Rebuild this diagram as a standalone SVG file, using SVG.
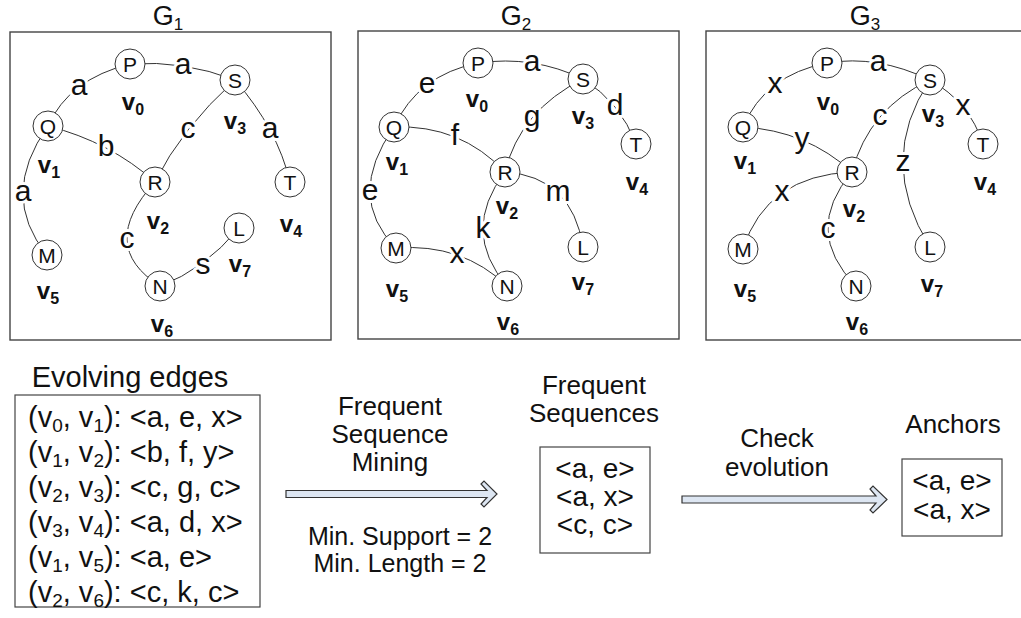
<svg xmlns="http://www.w3.org/2000/svg" width="1021" height="618" viewBox="0 0 1021 618">
  <style>
    text { font-family: "Liberation Sans", Arial, Helvetica, sans-serif; fill: #111; }
    .frame { fill: none; stroke: #444; stroke-width: 1.4; }
    .box { fill: #fff; stroke: #444; stroke-width: 1.2; }
    .edge { fill: none; stroke: #333; stroke-width: 1; }
    .node circle { fill: #fff; stroke: #333; stroke-width: 1; }
    .nl { font-size: 21px; text-anchor: middle; }
    .vl { font-size: 24px; font-weight: bold; text-anchor: middle; }
    .vl .s { font-size: 16px; }
    .el { font-size: 30px; text-anchor: middle; stroke: #fff; stroke-width: 6; paint-order: stroke; stroke-linejoin: round; }
    .title { font-size: 27px; text-anchor: middle; }
    .title .s { font-size: 17px; }
    .big { font-size: 29px; text-anchor: middle; }
    .row { font-size: 29px; }
    .row .s { font-size: 19px; }
    .lbl { font-size: 26px; text-anchor: middle; }
    .lbl.sm { font-size: 25px; }
    .seq { font-size: 28px; text-anchor: middle; }
    .arrow { fill: #dde6f2; stroke: #333; stroke-width: 1.2; stroke-linejoin: miter; }
  </style>

  <!-- panel frames and titles -->
  <g id="panels">
    <rect class="frame" x="10" y="32" width="321" height="308"/>
    <rect class="frame" x="358" y="31" width="321" height="308"/>
    <rect class="frame" x="706" y="31" width="330" height="309"/>
    <text class="title" x="168" y="25">G<tspan class="s" dy="5">1</tspan></text>
    <text class="title" x="516" y="25">G<tspan class="s" dy="5">2</tspan></text>
    <text class="title" x="865" y="25">G<tspan class="s" dy="5">3</tspan></text>
  </g>

  <!-- ===== G1 ===== -->
  <g id="g1-connectors">
    <path class="edge" d="M48,126 Q69,79 130,64"/>
    <path class="edge" d="M130,64 Q183.5,60 235,80"/>
    <path class="edge" d="M235,80 Q277.5,129 290,182"/>
    <path class="edge" d="M235,80 Q181,129 155,182"/>
    <path class="edge" d="M48,126 Q110.5,142 155,182"/>
    <path class="edge" d="M48,126 Q-1.5,195.5 47,255"/>
    <path class="edge" d="M155,182 Q96.5,246 160,286"/>
    <path class="edge" d="M160,286 Q204,270 239,228"/>
    <text class="el" x="79" y="95">a</text>
    <text class="el" x="183" y="74">a</text>
    <text class="el" x="270" y="138">a</text>
    <text class="el" x="188" y="138">c</text>
    <text class="el" x="106" y="156">b</text>
    <text class="el" x="23" y="201">a</text>
    <text class="el" x="127" y="248">c</text>
    <text class="el" x="203" y="274">s</text>
  </g>
  <g id="g1-v0" class="node"><circle cx="130" cy="64" r="15"/><text class="nl" x="130" y="71.5">P</text><text class="vl" x="133" y="110">v<tspan class="s" dy="5">0</tspan></text></g>
  <g id="g1-v1" class="node"><circle cx="48" cy="126" r="15"/><text class="nl" x="48" y="133.5">Q</text><text class="vl" x="49" y="173">v<tspan class="s" dy="5">1</tspan></text></g>
  <g id="g1-v2" class="node"><circle cx="155" cy="182" r="15"/><text class="nl" x="155" y="189.5">R</text><text class="vl" x="158" y="229">v<tspan class="s" dy="5">2</tspan></text></g>
  <g id="g1-v3" class="node"><circle cx="235" cy="80" r="15"/><text class="nl" x="235" y="87.5">S</text><text class="vl" x="235" y="129">v<tspan class="s" dy="5">3</tspan></text></g>
  <g id="g1-v4" class="node"><circle cx="290" cy="182" r="15"/><text class="nl" x="290" y="189.5">T</text><text class="vl" x="291" y="232">v<tspan class="s" dy="5">4</tspan></text></g>
  <g id="g1-v5" class="node"><circle cx="47" cy="255" r="15"/><text class="nl" x="47" y="262.5">M</text><text class="vl" x="48" y="299">v<tspan class="s" dy="5">5</tspan></text></g>
  <g id="g1-v6" class="node"><circle cx="160" cy="286" r="15"/><text class="nl" x="160" y="293.5">N</text><text class="vl" x="162" y="332">v<tspan class="s" dy="5">6</tspan></text></g>
  <g id="g1-v7" class="node"><circle cx="239" cy="228" r="15"/><text class="nl" x="239" y="235.5">L</text><text class="vl" x="240" y="272">v<tspan class="s" dy="5">7</tspan></text></g>

  <!-- ===== G2 ===== -->
  <g id="g2-connectors">
    <path class="edge" d="M394,127 Q418,75 478,63"/>
    <path class="edge" d="M478,63 Q533.5,55 583,79"/>
    <path class="edge" d="M583,79 Q620.5,102.5 636,144"/>
    <path class="edge" d="M583,79 Q520,110.5 505,172"/>
    <path class="edge" d="M394,127 Q460.5,124.5 505,172"/>
    <path class="edge" d="M505,172 Q572,176.5 583,247"/>
    <path class="edge" d="M394,127 Q345,196.5 396,248"/>
    <path class="edge" d="M505,172 Q460,231 507,286"/>
    <path class="edge" d="M396,248 Q462.5,243 507,286"/>
    <text class="el" x="427" y="93">e</text>
    <text class="el" x="532" y="71">a</text>
    <text class="el" x="615" y="115">d</text>
    <text class="el" x="532" y="126">g</text>
    <text class="el" x="455" y="145">f</text>
    <text class="el" x="558" y="201">m</text>
    <text class="el" x="370" y="200">e</text>
    <text class="el" x="483" y="238">k</text>
    <text class="el" x="457" y="263">x</text>
  </g>
  <g id="g2-v0" class="node"><circle cx="478" cy="63" r="15"/><text class="nl" x="478" y="70.5">P</text><text class="vl" x="477" y="107">v<tspan class="s" dy="5">0</tspan></text></g>
  <g id="g2-v1" class="node"><circle cx="394" cy="127" r="15"/><text class="nl" x="394" y="134.5">Q</text><text class="vl" x="397" y="170">v<tspan class="s" dy="5">1</tspan></text></g>
  <g id="g2-v2" class="node"><circle cx="505" cy="172" r="15"/><text class="nl" x="505" y="179.5">R</text><text class="vl" x="507" y="214">v<tspan class="s" dy="5">2</tspan></text></g>
  <g id="g2-v3" class="node"><circle cx="583" cy="79" r="15"/><text class="nl" x="583" y="86.5">S</text><text class="vl" x="583" y="124">v<tspan class="s" dy="5">3</tspan></text></g>
  <g id="g2-v4" class="node"><circle cx="636" cy="144" r="15"/><text class="nl" x="636" y="151.5">T</text><text class="vl" x="637" y="190">v<tspan class="s" dy="5">4</tspan></text></g>
  <g id="g2-v5" class="node"><circle cx="396" cy="248" r="15"/><text class="nl" x="396" y="255.5">M</text><text class="vl" x="397" y="297">v<tspan class="s" dy="5">5</tspan></text></g>
  <g id="g2-v6" class="node"><circle cx="507" cy="286" r="15"/><text class="nl" x="507" y="293.5">N</text><text class="vl" x="508" y="330">v<tspan class="s" dy="5">6</tspan></text></g>
  <g id="g2-v7" class="node"><circle cx="583" cy="247" r="15"/><text class="nl" x="583" y="254.5">L</text><text class="vl" x="583" y="290">v<tspan class="s" dy="5">7</tspan></text></g>

  <!-- ===== G3 ===== -->
  <g id="g3-connectors">
    <path class="edge" d="M743,127 Q765,75 827,63"/>
    <path class="edge" d="M827,63 Q877.5,54.5 930,80"/>
    <path class="edge" d="M930,80 Q869,108 852,172"/>
    <path class="edge" d="M930,80 Q969.5,102 983,144"/>
    <path class="edge" d="M930,80 Q876,160.5 930,247"/>
    <path class="edge" d="M743,127 Q806.5,130.5 852,172"/>
    <path class="edge" d="M852,172 Q766.5,175.5 743,249"/>
    <path class="edge" d="M852,172 Q802,231 856,286"/>
    <text class="el" x="775" y="93">x</text>
    <text class="el" x="878" y="71">a</text>
    <text class="el" x="880" y="125">c</text>
    <text class="el" x="963" y="115">x</text>
    <text class="el" x="903" y="171">z</text>
    <text class="el" x="802" y="148">y</text>
    <text class="el" x="782" y="201">x</text>
    <text class="el" x="828" y="238">c</text>
  </g>
  <g id="g3-v0" class="node"><circle cx="827" cy="63" r="15"/><text class="nl" x="827" y="70.5">P</text><text class="vl" x="828" y="110">v<tspan class="s" dy="5">0</tspan></text></g>
  <g id="g3-v1" class="node"><circle cx="743" cy="127" r="15"/><text class="nl" x="743" y="134.5">Q</text><text class="vl" x="745" y="169">v<tspan class="s" dy="5">1</tspan></text></g>
  <g id="g3-v2" class="node"><circle cx="852" cy="172" r="15"/><text class="nl" x="852" y="179.5">R</text><text class="vl" x="854" y="217">v<tspan class="s" dy="5">2</tspan></text></g>
  <g id="g3-v3" class="node"><circle cx="930" cy="80" r="15"/><text class="nl" x="930" y="87.5">S</text><text class="vl" x="933" y="122">v<tspan class="s" dy="5">3</tspan></text></g>
  <g id="g3-v4" class="node"><circle cx="983" cy="144" r="15"/><text class="nl" x="983" y="151.5">T</text><text class="vl" x="985" y="190">v<tspan class="s" dy="5">4</tspan></text></g>
  <g id="g3-v5" class="node"><circle cx="743" cy="249" r="15"/><text class="nl" x="743" y="256.5">M</text><text class="vl" x="745" y="297">v<tspan class="s" dy="5">5</tspan></text></g>
  <g id="g3-v6" class="node"><circle cx="856" cy="286" r="15"/><text class="nl" x="856" y="293.5">N</text><text class="vl" x="857" y="330">v<tspan class="s" dy="5">6</tspan></text></g>
  <g id="g3-v7" class="node"><circle cx="930" cy="247" r="15"/><text class="nl" x="930" y="254.5">L</text><text class="vl" x="932" y="292">v<tspan class="s" dy="5">7</tspan></text></g>

  <!-- ===== pipeline ===== -->
  <g id="evolving-edges">
    <text class="big" x="130" y="387">Evolving edges</text>
    <rect class="box" x="15" y="395" width="245" height="212"/>
    <text class="row" x="28" y="427">(v<tspan class="s" dy="5">0</tspan><tspan dy="-5">, v</tspan><tspan class="s" dy="5">1</tspan><tspan dy="-5">): &lt;a, e, x&gt;</tspan></text>
    <text class="row" x="28" y="462">(v<tspan class="s" dy="5">1</tspan><tspan dy="-5">, v</tspan><tspan class="s" dy="5">2</tspan><tspan dy="-5">): &lt;b, f, y&gt;</tspan></text>
    <text class="row" x="28" y="497">(v<tspan class="s" dy="5">2</tspan><tspan dy="-5">, v</tspan><tspan class="s" dy="5">3</tspan><tspan dy="-5">): &lt;c, g, c&gt;</tspan></text>
    <text class="row" x="28" y="532">(v<tspan class="s" dy="5">3</tspan><tspan dy="-5">, v</tspan><tspan class="s" dy="5">4</tspan><tspan dy="-5">): &lt;a, d, x&gt;</tspan></text>
    <text class="row" x="28" y="567">(v<tspan class="s" dy="5">1</tspan><tspan dy="-5">, v</tspan><tspan class="s" dy="5">5</tspan><tspan dy="-5">): &lt;a, e&gt;</tspan></text>
    <text class="row" x="28" y="602">(v<tspan class="s" dy="5">2</tspan><tspan dy="-5">, v</tspan><tspan class="s" dy="5">6</tspan><tspan dy="-5">): &lt;c, k, c&gt;</tspan></text>
  </g>

  <g id="mining-step">
    <text class="lbl" x="390" y="415">Frequent</text>
    <text class="lbl" x="390" y="443">Sequence</text>
    <text class="lbl" x="390" y="471">Mining</text>
    <path class="arrow" d="M286,490.5 H487 L481,484 L484,481 L497,494 L484,507 L481,504 L487,497.5 H286 Z"/>
    <text class="lbl sm" x="400" y="545">Min. Support = 2</text>
    <text class="lbl sm" x="400" y="572">Min. Length = 2</text>
  </g>

  <g id="frequent-sequences">
    <text class="lbl" x="594" y="394">Frequent</text>
    <text class="lbl" x="594" y="422">Sequences</text>
    <rect class="box" x="540" y="447" width="110" height="106"/>
    <text class="seq" x="595" y="478">&lt;a, e&gt;</text>
    <text class="seq" x="595" y="506">&lt;a, x&gt;</text>
    <text class="seq" x="595" y="534">&lt;c, c&gt;</text>
  </g>

  <g id="check-step">
    <text class="lbl" x="777" y="447">Check</text>
    <text class="lbl" x="777" y="476">evolution</text>
    <path class="arrow" d="M682,496 H876 L870,489 L873,486 L887,499.5 L873,513 L870,510 L876,503 H682 Z"/>
  </g>

  <g id="anchors">
    <text class="lbl" x="953" y="433">Anchors</text>
    <rect class="box" x="902" y="459" width="100" height="77"/>
    <text class="seq" x="952" y="490">&lt;a, e&gt;</text>
    <text class="seq" x="952" y="519">&lt;a, x&gt;</text>
  </g>
</svg>
